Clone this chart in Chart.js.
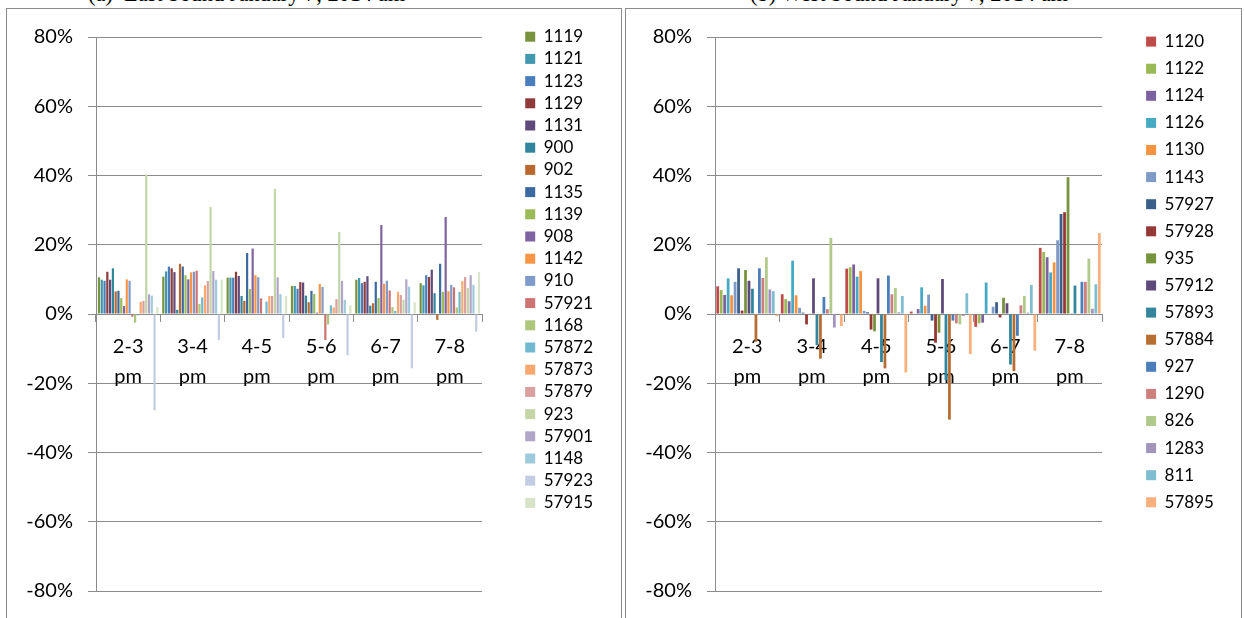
<!DOCTYPE html>
<html>
<head>
<meta charset="utf-8">
<script src="https://cdn.jsdelivr.net/npm/chart.js@4.4.1/dist/chart.umd.min.js"></script>
<style>
  body { margin: 0; width: 1244px; height: 618px; overflow: hidden; background: #fff; position: relative; }
  .title { position: absolute; top: -17px; font: 22.4px/22px "Liberation Serif", "Times New Roman", serif; white-space: pre; color: #000; }
  .panel { position: absolute; top: 8px; height: 700px; box-sizing: border-box; border: 1px solid #8c8c8c; }
  canvas { position: absolute; top: 8px; }
</style>
</head>
<body>
<div class="title" style="left:88px">(a)  East bound January 7, 2014 am</div>
<div class="title" style="left:750px">(b) West bound January 7, 2014 am</div>
<div class="panel" style="left:6px; width:616px"></div>
<div class="panel" style="left:625px; width:617px"></div>
<canvas id="east" width="615" height="610" style="left:6px"></canvas>
<canvas id="west" width="615" height="610" style="left:626px"></canvas>
<script>
'use strict';

// ── Data ────────────────────────────────────────────────────────────────────
const categories = [['2-3', 'pm'], ['3-4', 'pm'], ['4-5', 'pm'], ['5-6', 'pm'], ['6-7', 'pm'], ['7-8', 'pm']];
const yTicks = [-80, -60, -40, -20, 0, 20, 40, 60, 80];

// East bound, % change per hour slot
const eastNames = ['1119', '1121', '1123', '1129', '1131', '900', '902', '1135', '1139', '908', '1142',
  '910', '57921', '1168', '57872', '57873', '57879', '923', '57901', '1148', '57923', '57915'];
const east1119  = [10.6, 10.8, 10.5, 8.1, 9.9, 8.9];
const east1121  = [9.9, 12.3, 10.5, 8.1, 10.4, 8.3];
const east1123  = [9.6, 13.7, 10.5, 7.3, 8.9, 11.2];
const east1129  = [12.2, 13.2, 12.2, 9.2, 9.3, 10.7];
const east1131  = [9.9, 12.1, 11.0, 9.1, 10.9, 12.8];
const east900   = [13.2, 1.2, 5.2, 5.3, 2.4, 6.0];
const east902   = [6.5, 14.5, 3.8, 3.4, 3.1, -1.7];
const east1135  = [6.7, 13.7, 17.6, 6.7, 9.3, 14.5];
const east1139  = [4.6, 11.2, 7.2, 5.8, 4.6, 6.4];
const east908   = [2.3, 10.0, 18.9, 0.4, 25.7, 28.0];
const east1142  = [10.0, 12.0, 11.2, 8.7, 8.7, 6.6];
const east910   = [9.6, 12.2, 10.6, 7.8, 9.6, 8.4];
const east57921 = [-0.8, 12.5, 4.5, -7.5, 6.8, 7.7];
const east1168  = [-2.5, 2.9, 0, -3.0, 2.0, 1.9];
const east57872 = [-0.4, 4.8, 3.6, 2.5, 0.9, 6.4];
const east57873 = [3.5, 8.3, 5.2, 1.9, 6.4, 9.5];
const east57879 = [3.8, 9.5, 5.2, 4.3, 5.5, 10.7];
const east923   = [40.3, 30.9, 36.1, 23.7, 4.1, 7.5];
const east57901 = [5.7, 12.4, 10.6, 9.6, 10.0, 11.2];
const east1148  = [5.3, 9.9, 5.7, 4.1, 7.9, 8.4];
const east57923 = [-27.8, -7.5, -6.9, -11.9, -15.7, -5.1];
const east57915 = [2.0, 9.9, 5.2, 2.5, 3.4, 12.1];
const eastValues = [east1119, east1121, east1123, east1129, east1131, east900, east902, east1135, east1139,
  east908, east1142, east910, east57921, east1168, east57872, east57873, east57879, east923, east57901,
  east1148, east57923, east57915];
const eastColors = ['#77933c', '#4198af', '#4a7ebb', '#8e3b3a', '#5f4a7e', '#31859c', '#b9692d', '#3c69a0',
  '#9bbb59', '#8064a2', '#f79646', '#7f9bcb', '#cd7371', '#adc67c', '#72b9d0', '#f9a96f', '#d9a09f',
  '#c4d5a7', '#b2a6c8', '#9dcadd', '#c2cce2', '#d7e4c7'];

// West bound
const westNames = ['1120', '1122', '1124', '1126', '1130', '1143', '57927', '57928', '935', '57912', '57893',
  '57884', '927', '1290', '826', '1283', '811', '57895'];
const west1120  = [8.0, 5.7, 13.1, 0.7, -3.7, 19.1];
const west1122  = [6.9, 4.3, 13.5, 0, -2.7, 17.9];
const west1124  = [5.5, 3.7, 14.3, 1.4, -2.5, 16.4];
const west1126  = [10.3, 15.4, 10.8, 7.7, 9.1, 12.0];
const west1130  = [5.4, 5.4, 12.4, 2.4, 0, 14.9];
const west1143  = [9.3, 1.8, 0.9, 5.6, 2.1, 21.3];
const west57927 = [13.2, 0.4, 0.5, -1.9, 3.4, 28.9];
const west57928 = [1.0, -3.0, -4.5, -8.3, -1.0, 29.4];
const west935   = [12.7, 0.2, -5.0, -5.4, 4.7, 39.5];
const west57912 = [9.6, 10.3, 10.3, 10.1, 3.1, 0.2];
const west57893 = [7.3, -9.0, -13.9, -19.1, -14.6, 8.2];
const west57884 = [-8.0, -12.9, -15.7, -30.5, -16.5, -0.3];
const west927   = [13.2, 4.9, 11.1, -1.9, -6.3, 9.3];
const west1290  = [10.4, 1.4, 5.7, -2.7, 2.5, 9.3];
const west826   = [16.4, 22.0, 7.5, -3.0, 5.2, 16.0];
const west1283  = [7.1, -3.9, 0.5, -0.6, 0.4, 1.5];
const west811   = [6.6, 0, 5.2, 6.0, 8.4, 8.6];
const west57895 = [-0.6, -3.5, -16.9, -11.6, -10.6, 23.4];
const westValues = [west1120, west1122, west1124, west1126, west1130, west1143, west57927, west57928,
  west935, west57912, west57893, west57884, west927, west1290, west826, west1283, west811, west57895];
const westColors = ['#be4b48', '#98b954', '#7d60a0', '#46aac5', '#f69240', '#7e9bc8', '#3a5f8b', '#953735',
  '#77933c', '#5f497a', '#31859c', '#b86d31', '#4a7ebb', '#cd7f7e', '#b1c98a', '#a294bc', '#7fbdd0', '#f9b07c'];

// ── Chart setup ─────────────────────────────────────────────────────────────
const GRID = '#8c8c8c';
const FONT = 'Lato';
const LEGEND_FONT = 17;
const BOX = 10;
const PLOT_RIGHT = 476;   // plot right edge inside each canvas

// legend width as Chart.js computes it, so the plot ends where we want it
function legendWidth(names, pad) {
  const ctx = document.createElement('canvas').getContext('2d');
  ctx.font = LEGEND_FONT + 'px ' + FONT;
  const textW = Math.max(...names.map(n => ctx.measureText(n).width));
  return pad + BOX + LEGEND_FONT / 2 + textW + 10;
}

function createBarChart(canvasId, names, values, colors, opts) {
  const canvas = document.getElementById(canvasId);
  const padRight = canvas.width - PLOT_RIGHT - opts.gap - legendWidth(names, opts.legendPad);
  const datasets = names.map((name, i) => ({
    label: name,
    data: values[i],
    backgroundColor: colors[i],
    borderWidth: 0,
    categoryPercentage: opts.catPct,
    barPercentage: 0.8,
  }));

  return new Chart(canvas.getContext('2d'), {
    type: 'bar',
    data: { labels: categories, datasets },
    options: {
      responsive: false,
      animation: false,
      layout: { padding: { top: 15, bottom: 26, left: 0, right: padRight } },
      plugins: {
        tooltip: { enabled: false },
        // empty title only reserves room above the plot
        title: { display: true, text: '', fullSize: false, padding: 0, font: { size: 14, lineHeight: 1 } },
        legend: {
          position: 'right',
          align: 'start',
          labels: {
            color: '#000',
            boxWidth: BOX,
            boxHeight: BOX,
            padding: opts.legendPad,
            font: { family: FONT, size: LEGEND_FONT },
          },
        },
      },
      scales: {
        x: {
          position: { y: 0 },
          offset: true,
          grid: { drawOnChartArea: false, tickLength: 7, color: GRID },
          border: { color: GRID },
          ticks: { color: '#000', padding: 11, maxRotation: 0, autoSkip: false,
            font: { family: FONT, size: 20, lineHeight: 1.5 } },
        },
        y: {
          min: -80,
          max: 80,
          afterBuildTicks: s => { s.ticks = yTicks.map(v => ({ value: v })); },
          afterFit: s => { s.width = opts.axisWidth; },
          grid: { color: GRID, tickLength: 8 },
          border: { color: GRID },
          ticks: { color: '#000', padding: 15, callback: v => v + '%', font: { family: FONT, size: 20 } },
        },
        // spacer between plot and legend
        y2: {
          type: 'linear',
          position: 'right',
          grid: { display: false, drawTicks: false },
          border: { display: false },
          ticks: { display: false },
          afterFit: s => { s.width = opts.gap; },
        },
      },
    },
  });
}

function draw() {
  createBarChart('east', eastNames, eastValues, eastColors,
    { catPct: 0.95, legendPad: 5.2, gap: 38, axisWidth: 90 });
  createBarChart('west', westNames, westValues, westColors,
    { catPct: 0.97, legendPad: 10.1, gap: 34, axisWidth: 89 });
}

document.fonts.load('20px Lato').then(draw, draw);
</script>
</body>
</html>
